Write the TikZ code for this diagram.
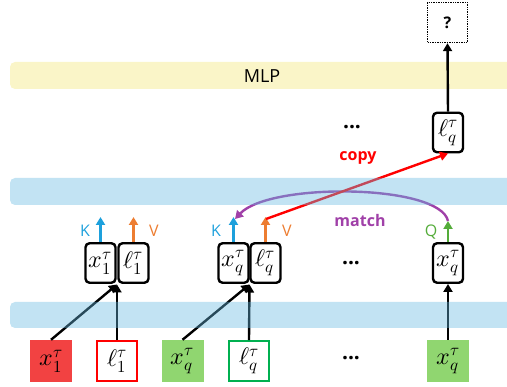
\documentclass[tikz,border=0pt]{standalone}
\usepackage{unicode-math}
\setmathfont{Latin Modern Math}
\newfontfamily\osans{Open Sans}
\usetikzlibrary{arrows.meta}
\definecolor{bandblue}{RGB}{102,185,225}
\definecolor{bandyellow}{RGB}{250,245,200}
\definecolor{redfill}{RGB}{242,66,66}
\definecolor{greenfill}{RGB}{144,214,112}
\definecolor{greenline}{RGB}{0,176,80}
\definecolor{kblue}{RGB}{29,160,220}
\definecolor{vorange}{RGB}{237,125,49}
\definecolor{qgreen}{RGB}{84,172,58}
\definecolor{mpurple}{RGB}{160,64,168}
\tikzset{
  tok/.style={draw=black, line width=2.4pt, rounded corners=4pt, fill=white,
    minimum width=30pt, minimum height=39.5pt, inner sep=0pt, font=\fontsize{24}{26}\selectfont},
  inp/.style={minimum width=42pt, minimum height=42pt, inner sep=0pt, font=\fontsize{24}{26}\selectfont},
  inpo/.style={inp, line width=2.4pt, minimum width=39.5pt, minimum height=39.5pt},
  band/.style={fill=bandblue, fill opacity=0.4, rounded corners=5pt},
  arr/.style={draw=black, line width=2.4pt, -{Triangle[width=9pt,length=8pt]}},
  karr/.style={line width=2.6pt, -{Triangle[width=9pt,length=8pt]}},
  lbl/.style={font=\osans\fontsize{16}{18}\selectfont, inner sep=0pt},
  bl/.style={font=\osans\bfseries\fontsize{16}{18}\selectfont, inner sep=0pt},
  dots/.style={font=\osans\bfseries\fontsize{21}{22}\selectfont, inner sep=0pt},
}
\begin{document}
\begin{tikzpicture}[x=1pt,y=-1pt]
\useasboundingbox (0,0) rectangle (507,387);
% yellow MLP band
\fill[bandyellow, rounded corners=5pt] (10,62) rectangle (520,89);
\node[font=\osans\fontsize{18}{20}\selectfont, inner sep=0pt] (mlp) at (262,76) {MLP};

% bottom input boxes
\node[inp, fill=redfill] (bx1) at (51,361) {$x_1^\tau$};
\node[inpo, draw=red] (bl1) at (117,361) {$\ell_1^\tau$};
\node[inp, fill=greenfill] (bxq) at (182.5,361) {$x_q^\tau$};
\node[inpo, draw=greenline] (blq) at (249,361) {$\ell_q^\tau$};
\node[inp, fill=greenfill] (bxr) at (448,361) {$x_q^\tau$};
\node[dots] (d1) at (351,358) {...};

% middle tokens
\node[tok] (mx1) at (100.5,263) {$x_1^\tau$};
\node[tok] (ml1) at (133.5,263) {$\ell_1^\tau$};
\node[tok] (mxq) at (233.5,263) {$x_q^\tau$};
\node[tok] (mlq) at (265.5,263) {$\ell_q^\tau$};
\node[tok] (mxr) at (448,263) {$x_q^\tau$};
\node[dots] (d2) at (351,263) {...};

\coordinate (j1) at (117,284.5);
\coordinate (j2) at (249.5,284.5);

\draw[arr] (bx1.north) -- (j1);
\draw[arr] (bl1.north) -- (j1);
\draw[arr] (bxq.north) -- (j2);
\draw[arr] (blq.north) -- (j2);
\draw[arr] (bxr.north) -- (mxr.south);

% K V Q arrows
\coordinate (k1) at (100.5,217);
\coordinate (v1) at (133.5,217);
\coordinate (k2) at (233.5,217);
\coordinate (v2) at (265.5,217);
\coordinate (q3) at (448,221);
\draw[karr, kblue] (mx1.north) -- (k1);
\draw[karr, vorange] (ml1.north) -- (v1);
\draw[karr, kblue] (mxq.north) -- (k2);
\draw[karr, vorange] (mlq.north) -- (v2);
\draw[karr, qgreen] (mxr.north) -- (q3);
\node[lbl, text=kblue] (lk1) at (85,231) {K};
\node[lbl, text=vorange] (lv1) at (154,231) {V};
\node[lbl, text=kblue] (lk2) at (216,231) {K};
\node[lbl, text=vorange] (lv2) at (287,231) {V};
\node[lbl, text=qgreen] (lq3) at (431,232) {Q};

% upper token and output
\node[tok] (ulq) at (448,132.5) {$\ell_q^\tau$};
\node[draw=black, densely dotted, line width=1.4pt, minimum width=40pt, minimum height=40pt, inner sep=0pt,
  font=\osans\bfseries\fontsize{16}{18}\selectfont] (out) at (447.5,22.5) {?};
\draw[arr] (ulq.north) -- (out.south);
\node[dots] (d3) at (352,127) {...};

% match and copy
\coordinate (kt) at (235,219);
\draw[line width=2.4pt, mpurple, -{Triangle[width=9pt,length=8pt]}] (q3) .. controls (440,184) and (270,182) .. (kt);
\coordinate (vt) at (266,219);
\draw[line width=2.4pt, red, -{Triangle[width=9pt,length=8pt]}] (vt) -- (ulq.south);
\node[bl, text=mpurple] (lmatch) at (360,221) {match};
\node[bl, text=red] (lcopy) at (358,158) {copy};

% blue bands on top (translucent)
\fill[band] (10,178) rectangle (520,205);
\fill[band] (10,302) rectangle (520,328);
\end{tikzpicture}
\end{document}
